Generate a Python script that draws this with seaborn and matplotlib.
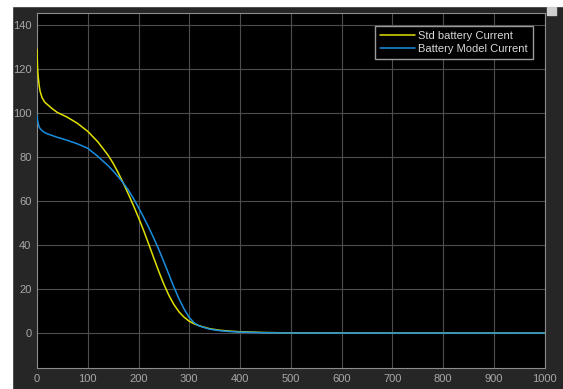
import numpy as np
import pandas as pd
import matplotlib
matplotlib.use("Agg")
import matplotlib.pyplot as plt
import seaborn as sns
from matplotlib import font_manager

# sample times (s)
time = [0, 1, 2, 4, 6, 10, 15, 20, 30, 40, 60, 80, 100, 120, 140, 150, 160,
        170, 180, 190, 200, 210, 220, 230, 240, 250, 260, 270, 280, 290, 300,
        310, 320, 340, 360, 380, 400, 450, 500, 600, 1000]

std_current = [129, 121, 117.5, 113, 110, 107, 105, 104, 102, 100.3, 98.1,
               95.3, 91.7, 86.9, 80.9, 77.2, 72.9, 68.2, 63.2, 58, 52.5,
               46.7, 40.5, 34.2, 28, 22.2, 17.1, 12.9, 9.6, 7.2, 5.4,
               4.2, 3.3, 2.0, 1.3, 0.9, 0.6, 0.25, 0.1, 0.02, 0]

model_current = [99, 97, 95.5, 93.8, 93, 92, 91.2, 90.6, 89.8, 89, 87.6, 86,
                 84, 80.3, 76.1, 73.7, 71.1, 68.2, 65, 61.2, 57.1, 52.7,
                 48.1, 43.2, 38, 32.4, 26.6, 20.8, 15.5, 10.9, 7.1,
                 4.6, 3.2, 1.8, 1.1, 0.7, 0.45, 0.15, 0.05, 0.01, 0]

labels = ["Std battery Current", "Battery Model Current"]
colors = ["#e1e100", "#1a8fe0"]

df = pd.concat([
    pd.DataFrame({"t": time, "I": std_current, "signal": labels[0]}),
    pd.DataFrame({"t": time, "I": model_current, "signal": labels[1]}),
])

sns.set_style("dark")
installed = {f.name for f in font_manager.fontManager.ttflist}
narrow = "Liberation Sans Narrow" in installed
plt.rcParams["font.family"] = (["Liberation Sans Narrow"] if narrow else []) + ["Liberation Sans", "DejaVu Sans"]
fsize = 9 if narrow else 8

fig = plt.figure(figsize=(5.63, 3.89), dpi=100, facecolor="#262626")
# white strips at top and left like the screenshot
fig.patches.append(plt.Rectangle((0, 1 - 6 / 389), 1, 6 / 389, transform=fig.transFigure,
                                 color="white", zorder=-5))
fig.patches.append(plt.Rectangle((0, 0), 12 / 563, 1, transform=fig.transFigure,
                                 color="white", zorder=-5))

ax = fig.add_axes([37 / 563, 1 - 368.3 / 389, 507.5 / 563, 355.3 / 389])
ax.set_facecolor("black")

sns.lineplot(data=df, x="t", y="I", hue="signal", palette=colors,
             estimator=None, linewidth=1.1, ax=ax, zorder=3)

ax.set_xlim(0, 1000)
ax.set_ylim(-16, 145.5)
ax.set_xticks(range(0, 1001, 100))
ax.set_yticks(range(0, 141, 20))
ax.grid(True, color="#4d4d4d", linewidth=0.8)
ax.set_xlabel("")
ax.set_ylabel("")
ax.tick_params(colors="#a8a8a8", labelsize=fsize, length=0, pad=4)
for s in ax.spines.values():
    s.set_color("#8c8c8c")
    s.set_linewidth(0.8)

leg = ax.legend(loc="upper right", bbox_to_anchor=(1 - 12 / 507.5, 1 - 13 / 355.3),
                fontsize=fsize, frameon=True, fancybox=False, handlelength=3.1,
                borderpad=0.45, labelspacing=0.3, handletextpad=0.3,
                borderaxespad=0)
leg.get_frame().set_facecolor("black")
leg.get_frame().set_edgecolor("#9a9a9a")
leg.get_frame().set_alpha(1)
leg.set_zorder(5)
for txt in leg.get_texts():
    txt.set_color("#d8d8d8")

# little button in the top right corner
fig.patches.append(plt.Rectangle((547 / 563, 1 - 15 / 389), 9 / 563, 8 / 389,
                                 transform=fig.transFigure, color="#cfcfcf", zorder=3))

fig.savefig("out.png", dpi=100, facecolor=fig.get_facecolor())
